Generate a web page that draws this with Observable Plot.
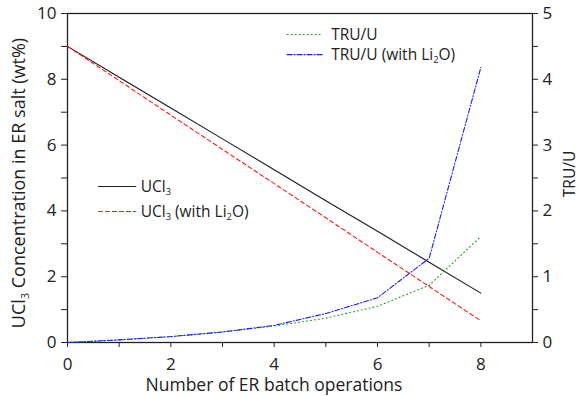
<!DOCTYPE html>
<html>
<head>
<meta charset="utf-8">
<script src="https://cdn.jsdelivr.net/npm/d3@7"></script>
<script src="https://cdn.jsdelivr.net/npm/@observablehq/plot@0.6"></script>
<style>
  html, body { margin: 0; padding: 0; background: #fff; }
  #chart svg { display: block; }
</style>
</head>
<body>
<div id="chart"></div>
<script>
// ---- data ----
const batches = [0, 1, 2, 3, 4, 5, 6, 7, 8];
const ucl3 = [9, 8.06, 7.13, 6.19, 5.25, 4.31, 3.38, 2.44, 1.5];
const ucl3Li = [9, 7.96, 6.91, 5.87, 4.83, 3.79, 2.74, 1.7, 0.66];
const truU = [0, 0.04, 0.09, 0.16, 0.25, 0.37, 0.55, 0.87, 1.61];
const truULi = [0, 0.04, 0.09, 0.16, 0.26, 0.44, 0.68, 1.28, 4.18];

const xTicks = [0, 2, 4, 6, 8];
const xMinor = [1, 3, 5, 7];
const yTicks = [0, 2, 4, 6, 8, 10];
const yMinor = [1, 3, 5, 7, 9];
const y2Ticks = [0, 1, 2, 3, 4, 5];
const y2Minor = [0.5, 1.5, 2.5, 3.5, 4.5];

const xLabel = "Number of ER batch operations";
const yLabel = "UCl₃ Concentration in ER salt (wt%)";
const y2Label = "TRU/U";

// right axis (0–5) shares the left scale (0–10)
const y2Factor = 2;

const series = [
  {name: "UCl₃", values: ucl3, axis: "left", stroke: "#1a1a1a", dash: null},
  {name: "UCl₃ (with Li₂O)", values: ucl3Li, axis: "left", stroke: "#ff1a1a", dash: "4,3"},
  {name: "TRU/U", values: truU, axis: "right", stroke: "#1f9a1f", dash: "1,3"},
  {name: "TRU/U (with Li₂O)", values: truULi, axis: "right", stroke: "#1a1aff", dash: "5,2,1,2"}
];

// legend placement in data units of the left scale
const legendItems = [
  {name: "UCl₃", x1: 0.6, x2: 1.32, y: 4.74, gap: 5},
  {name: "UCl₃ (with Li₂O)", x1: 0.6, x2: 1.32, y: 3.98, gap: 5},
  {name: "TRU/U", x1: 4.25, x2: 4.93, y: 9.36, gap: 9},
  {name: "TRU/U (with Li₂O)", x1: 4.25, x2: 4.93, y: 8.75, gap: 9}
];

const rows = series.flatMap(s => batches.map((b, i) => ({
  name: s.name, x: b, y: s.axis === "left" ? s.values[i] : s.values[i] * y2Factor
})));
const legendLineRows = legendItems.flatMap(l => [
  {name: l.name, x: l.x1, y: l.y},
  {name: l.name, x: l.x2, y: l.y}
]);

const font = "'Open Sans', 'DejaVu Sans', sans-serif";
const axisColor = "#222";
const tickFont = 17;
const legendFont = 15.5;

const lineMarks = series.flatMap(s => [
  Plot.line(rows.filter(r => r.name === s.name), {
    x: "x", y: "y", stroke: s.stroke, strokeWidth: 1.1, strokeDasharray: s.dash ?? undefined
  }),
  Plot.line(legendLineRows.filter(r => r.name === s.name), {
    x: "x", y: "y", stroke: s.stroke, strokeWidth: 1.1, strokeDasharray: s.dash ?? undefined
  })
]);
const legendText = legendItems.map(l =>
  Plot.text([l], {x: "x2", y: "y", text: "name", textAnchor: "start", dx: l.gap, fontSize: legendFont, fill: "#222"})
);

const chart = Plot.plot({
  width: 582,
  height: 396,
  marginLeft: 67,
  marginRight: 50,
  marginTop: 13,
  marginBottom: 54,
  style: {fontFamily: font, fontSize: "16px", color: axisColor, background: "#fff"},
  x: {domain: [0, 9]},
  y: {domain: [0, 10]},
  marks: [
    Plot.frame({stroke: axisColor, strokeWidth: 1.3}),
    Plot.axisX({ticks: xTicks, tickSize: 5, tickPadding: 10, fontSize: tickFont, label: null, stroke: axisColor}),
    Plot.axisX({ticks: xMinor, tickSize: 5, tickFormat: () => "", label: null, stroke: axisColor}),
    Plot.axisY({ticks: yTicks, tickSize: 6, tickPadding: 5, fontSize: tickFont, label: null, stroke: axisColor}),
    Plot.axisY({ticks: yMinor, tickSize: 6, tickFormat: () => "", label: null, stroke: axisColor}),
    Plot.axisY({anchor: "right", ticks: y2Ticks.map(v => v * y2Factor), tickFormat: d => String(d / y2Factor), tickSize: 5, tickPadding: 5, fontSize: tickFont, label: null, stroke: axisColor}),
    Plot.axisY({anchor: "right", ticks: y2Minor.map(v => v * y2Factor), tickFormat: () => "", tickSize: 5, label: null, stroke: axisColor}),
    ...lineMarks,
    ...legendText,
    Plot.text([xLabel], {frameAnchor: "bottom", textAnchor: "middle", dy: 48, dx: -26, fontSize: 17.5, fill: "#222"}),
    Plot.text([yLabel], {frameAnchor: "left", textAnchor: "middle", dx: -48, dy: 5, rotate: -90, fontSize: 18, fill: "#222"}),
    Plot.text([y2Label], {frameAnchor: "right", textAnchor: "middle", dx: 38, dy: -4, rotate: -90, fontSize: 15.5, fill: "#222"})
  ]
});

// real subscripts for ₂ / ₃
const subMap = {"₂": "2", "₃": "3"};
chart.querySelectorAll("text").forEach(t => {
  const targets = t.children.length ? Array.from(t.querySelectorAll("tspan")) : [t];
  targets.forEach(el => {
    const s = el.textContent;
    if (!/[₂₃]/.test(s)) return;
    const fs = parseFloat(el.closest("[font-size]")?.getAttribute("font-size") || 16);
    el.textContent = "";
    const parts = s.split(/([₂₃])/).filter(p => p !== "");
    let shifted = false;
    parts.forEach(p => {
      const ts = document.createElementNS("http://www.w3.org/2000/svg", "tspan");
      if (subMap[p]) {
        ts.textContent = subMap[p];
        ts.setAttribute("font-size", (fs * 0.6).toFixed(1));
        ts.setAttribute("dy", (fs * 0.22).toFixed(1));
        shifted = true;
      } else {
        ts.textContent = p;
        if (shifted) { ts.setAttribute("dy", (-fs * 0.22).toFixed(1)); shifted = false; }
      }
      el.appendChild(ts);
    });
  });
});

document.getElementById("chart").appendChild(chart);
</script>
</body>
</html>
